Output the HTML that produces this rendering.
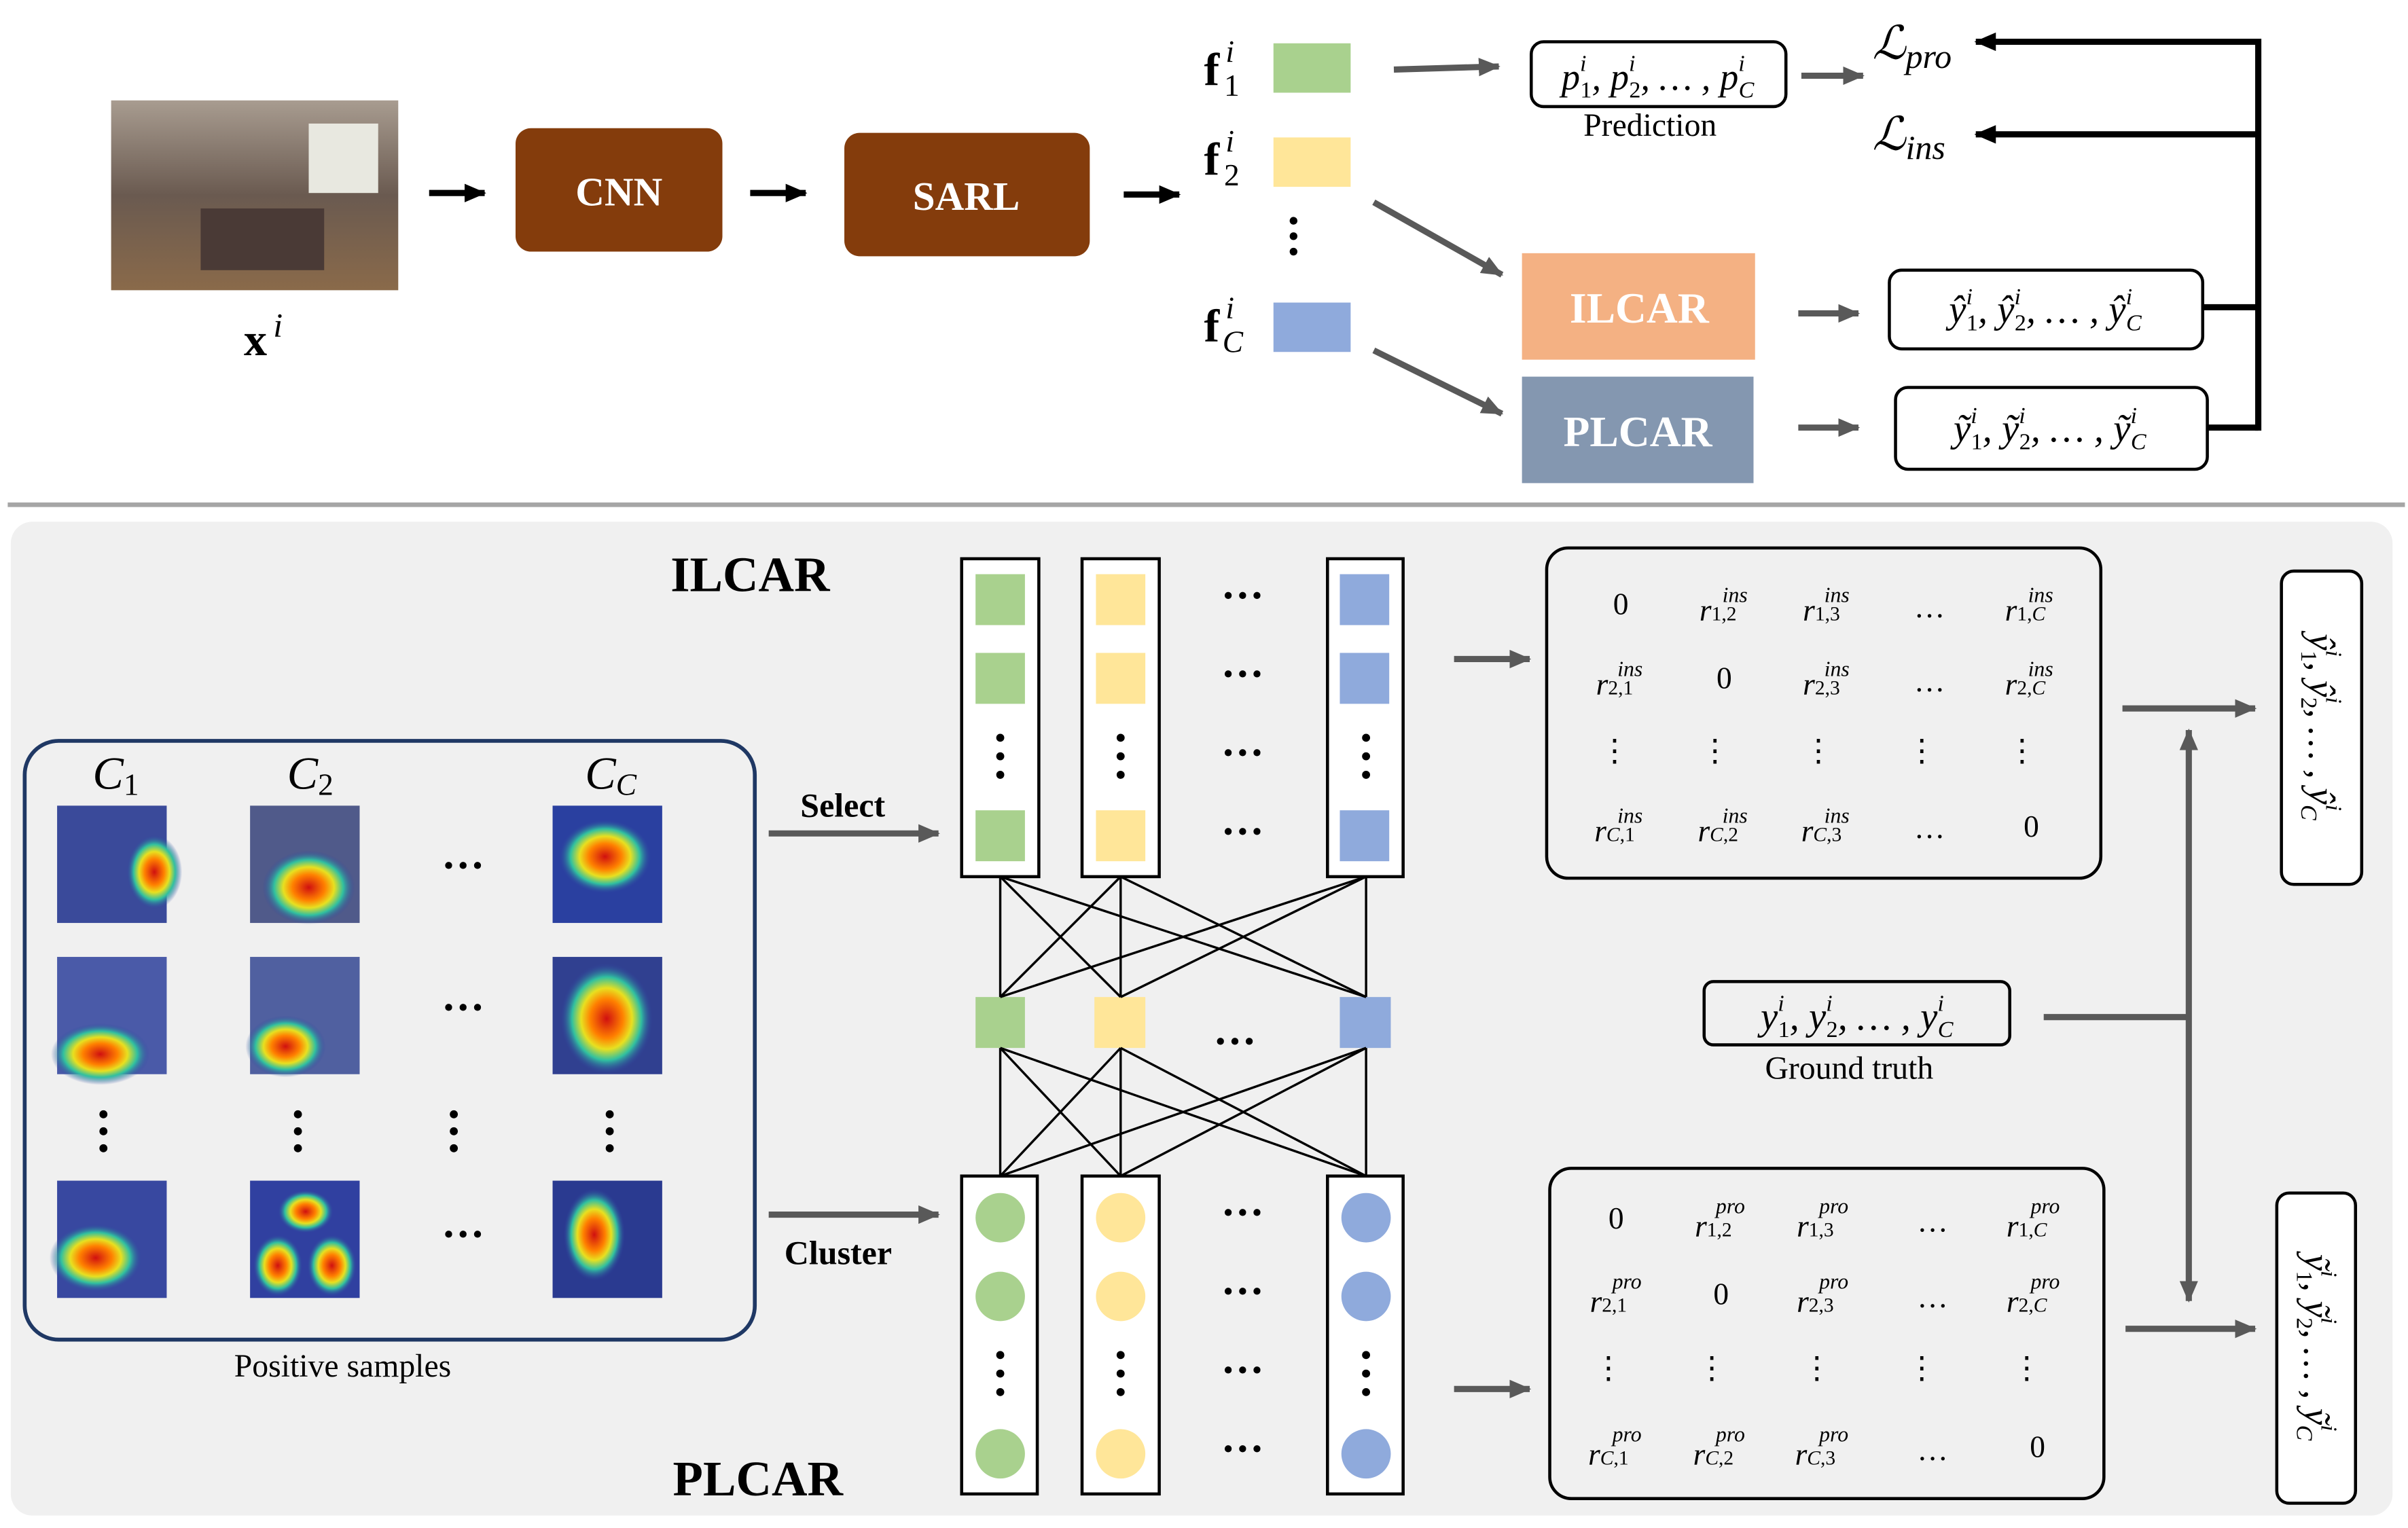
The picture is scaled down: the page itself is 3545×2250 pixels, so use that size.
<!DOCTYPE html>
<html><head><meta charset="utf-8">
<style>
html,body{margin:0;padding:0;background:#fff;}
svg{display:block;}
text{font-family:"Liberation Serif",serif;}
.it{font-style:italic;}
</style></head>
<body>
<svg width="3545" height="2250" viewBox="0 0 1560 990" xmlns="http://www.w3.org/2000/svg">
<defs>
<marker id="ab" markerWidth="14" markerHeight="12" refX="13" refY="6" orient="auto" markerUnits="userSpaceOnUse"><path d="M0,0 L14,6 L0,12 z" fill="#000"/></marker>
<marker id="ag" markerWidth="14" markerHeight="12" refX="13" refY="6" orient="auto" markerUnits="userSpaceOnUse"><path d="M0,0 L14,6 L0,12 z" fill="#595959"/></marker>
<marker id="agr" markerWidth="14" markerHeight="12" refX="1" refY="6" orient="auto" markerUnits="userSpaceOnUse"><path d="M14,0 L0,6 L14,12 z" fill="#595959"/></marker>
<radialGradient id="heat" cx="0.5" cy="0.5" r="0.5">
<stop offset="0" stop-color="#d01010"/><stop offset="0.35" stop-color="#ff8000"/><stop offset="0.55" stop-color="#e8e020"/><stop offset="0.75" stop-color="#30c0a0"/><stop offset="1" stop-color="#3040a0" stop-opacity="0"/></radialGradient>
<linearGradient id="room" x1="0" y1="0" x2="0" y2="1"><stop offset="0" stop-color="#a89c90"/><stop offset="0.5" stop-color="#6a5a50"/><stop offset="1" stop-color="#8a6a4a"/></linearGradient>
</defs>

<!-- TOP -->
<rect x="72" y="65" width="186" height="123" fill="url(#room)"/>
<rect x="200" y="80" width="45" height="45" fill="#e8e8e0"/>
<rect x="130" y="135" width="80" height="40" fill="#4a3a36"/>
<text x="158" y="230" font-size="30" font-weight="bold">x</text><text x="177" y="218" font-size="22" class="it">i</text>

<g stroke="#000" stroke-width="4" fill="none" marker-end="url(#ab)">
<line x1="278" y1="125" x2="314" y2="125"/>
<line x1="486" y1="125" x2="522" y2="125"/>
<line x1="728" y1="126" x2="764" y2="126"/>
</g>
<rect x="334" y="83" width="134" height="80" rx="10" fill="#843c0c"/>
<text x="401" y="133" font-size="26" font-weight="bold" fill="#fff" text-anchor="middle">CNN</text>
<rect x="547" y="86" width="159" height="80" rx="10" fill="#843c0c"/>
<text x="626" y="136" font-size="26" font-weight="bold" fill="#fff" text-anchor="middle">SARL</text>

<text x="780" y="55" font-size="30" font-weight="bold">f</text><text x="794" y="40" font-size="20" class="it">i</text><text x="793" y="62" font-size="20">1</text>
<text x="780" y="113" font-size="30" font-weight="bold">f</text><text x="794" y="98" font-size="20" class="it">i</text><text x="793" y="120" font-size="20">2</text>
<text x="780" y="221" font-size="30" font-weight="bold">f</text><text x="794" y="206" font-size="20" class="it">i</text><text x="792" y="228" font-size="20" class="it">C</text>
<rect x="825" y="28" width="50" height="32" fill="#a9d18e"/>
<rect x="825" y="89" width="50" height="32" fill="#ffe699"/>
<rect x="825" y="196" width="50" height="32" fill="#8faadc"/>
<circle cx="838" cy="143" r="2.5"/><circle cx="838" cy="153" r="2.5"/><circle cx="838" cy="163" r="2.5"/>

<g stroke="#595959" stroke-width="4" fill="none" marker-end="url(#ag)">
<line x1="903" y1="45" x2="971" y2="43"/>
<line x1="1167" y1="49" x2="1207" y2="49"/>
<line x1="890" y1="131" x2="973" y2="178"/>
<line x1="890" y1="227" x2="973" y2="268"/>
<line x1="1165" y1="203" x2="1204" y2="203"/>
<line x1="1165" y1="277" x2="1204" y2="277"/>
</g>
<rect x="992" y="27" width="165" height="42" rx="8" fill="#fff" stroke="#000" stroke-width="2"/>
<text x="1074" y="58" font-size="24" class="it" text-anchor="middle">p<tspan font-size="15" dy="-12">i</tspan><tspan font-size="15" font-style="normal" dx="-4" dy="17">1</tspan><tspan dy="-5">, p</tspan><tspan font-size="15" dy="-12">i</tspan><tspan font-size="15" font-style="normal" dx="-4" dy="17">2</tspan><tspan dy="-5">, … , p</tspan><tspan font-size="15" dy="-12">i</tspan><tspan font-size="15" dx="-4" dy="17">C</tspan></text>
<text x="1069" y="88" font-size="21" text-anchor="middle">Prediction</text>
<text x="1213" y="38" font-size="30" class="it">ℒ<tspan font-size="22" dy="6">pro</tspan></text>
<text x="1213" y="97" font-size="30" class="it">ℒ<tspan font-size="22" dy="6">ins</tspan></text>

<rect x="986" y="164" width="151" height="69" fill="#f4b183"/>
<text x="1062" y="209" font-size="28" font-weight="bold" fill="#fff" text-anchor="middle">ILCAR</text>
<rect x="986" y="244" width="150" height="69" fill="#8497b0"/>
<text x="1061" y="289" font-size="28" font-weight="bold" fill="#fff" text-anchor="middle">PLCAR</text>

<rect x="1224" y="175" width="203" height="51" rx="8" fill="#fff" stroke="#000" stroke-width="2"/>
<text x="1325" y="209" font-size="25" class="it" text-anchor="middle">ŷ<tspan font-size="15" dy="-12">i</tspan><tspan font-size="15" font-style="normal" dx="-4" dy="17">1</tspan><tspan dy="-5">, ŷ</tspan><tspan font-size="15" dy="-12">i</tspan><tspan font-size="15" font-style="normal" dx="-4" dy="17">2</tspan><tspan dy="-5">, … , ŷ</tspan><tspan font-size="15" dy="-12">i</tspan><tspan font-size="15" dx="-4" dy="17">C</tspan></text>
<rect x="1228" y="251" width="202" height="53" rx="8" fill="#fff" stroke="#000" stroke-width="2"/>
<text x="1328" y="286" font-size="25" class="it" text-anchor="middle">ỹ<tspan font-size="15" dy="-12">i</tspan><tspan font-size="15" font-style="normal" dx="-4" dy="17">1</tspan><tspan dy="-5">, ỹ</tspan><tspan font-size="15" dy="-12">i</tspan><tspan font-size="15" font-style="normal" dx="-4" dy="17">2</tspan><tspan dy="-5">, … , ỹ</tspan><tspan font-size="15" dy="-12">i</tspan><tspan font-size="15" dx="-4" dy="17">C</tspan></text>
<g stroke="#000" stroke-width="4" fill="none">
<line x1="1427" y1="199" x2="1463" y2="199"/>
<line x1="1430" y1="277" x2="1463" y2="277"/>
<line x1="1463" y1="25" x2="1463" y2="279"/>
<line x1="1463" y1="27" x2="1280" y2="27" marker-end="url(#ab)"/>
<line x1="1463" y1="87" x2="1280" y2="87" marker-end="url(#ab)"/>
</g>

<line x1="5" y1="327" x2="1558" y2="327" stroke="#a6a6a6" stroke-width="3"/>

<!-- BOTTOM -->
<rect x="7" y="338" width="1543" height="644" rx="14" fill="#f0f0f0"/>
<text x="486" y="383" font-size="32" font-weight="bold" text-anchor="middle">ILCAR</text>
<text x="491" y="969" font-size="32" font-weight="bold" text-anchor="middle">PLCAR</text>

<rect x="16" y="480" width="473" height="388" rx="22" fill="none" stroke="#1f3864" stroke-width="2.5"/>
<text x="60" y="511" font-size="30" class="it">C<tspan font-size="20" font-style="normal" dy="4">1</tspan></text>
<text x="186" y="511" font-size="30" class="it">C<tspan font-size="20" font-style="normal" dy="4">2</tspan></text>
<text x="379" y="511" font-size="30" class="it">C<tspan font-size="20" dy="4">C</tspan></text>
<g>
<rect x="37" y="522" width="71" height="76" fill="#3a4a9a"/><ellipse cx="100" cy="565" rx="18" ry="24" fill="url(#heat)"/>
<rect x="162" y="522" width="71" height="76" fill="#505a8a"/><ellipse cx="200" cy="575" rx="30" ry="24" fill="url(#heat)"/>
<rect x="358" y="522" width="71" height="76" fill="#2a40a0"/><ellipse cx="392" cy="555" rx="30" ry="24" fill="url(#heat)"/>
<rect x="37" y="620" width="71" height="76" fill="#4a5aa8"/><ellipse cx="65" cy="683" rx="32" ry="20" fill="url(#heat)"/>
<rect x="162" y="620" width="71" height="76" fill="#5060a0"/><ellipse cx="185" cy="678" rx="26" ry="20" fill="url(#heat)"/>
<rect x="358" y="620" width="71" height="76" fill="#304090"/><ellipse cx="393" cy="660" rx="30" ry="36" fill="url(#heat)"/>
<rect x="37" y="765" width="71" height="76" fill="#3848a0"/><ellipse cx="62" cy="815" rx="30" ry="22" fill="url(#heat)"/>
<rect x="162" y="765" width="71" height="76" fill="#3040a0"/><ellipse cx="180" cy="820" rx="16" ry="20" fill="url(#heat)"/><ellipse cx="215" cy="820" rx="16" ry="20" fill="url(#heat)"/><ellipse cx="198" cy="785" rx="18" ry="14" fill="url(#heat)"/>
<rect x="358" y="765" width="71" height="76" fill="#2a3a90"/><ellipse cx="385" cy="800" rx="20" ry="30" fill="url(#heat)"/>
</g>
<g font-size="28" font-weight="bold" text-anchor="middle">
<text x="300" y="570">···</text><text x="300" y="662">···</text><text x="300" y="809">···</text>
</g>
<g fill="#000">
<circle cx="67" cy="722" r="2.6"/><circle cx="67" cy="733" r="2.6"/><circle cx="67" cy="744" r="2.6"/>
<circle cx="193" cy="722" r="2.6"/><circle cx="193" cy="733" r="2.6"/><circle cx="193" cy="744" r="2.6"/>
<circle cx="294" cy="722" r="2.6"/><circle cx="294" cy="733" r="2.6"/><circle cx="294" cy="744" r="2.6"/>
<circle cx="395" cy="722" r="2.6"/><circle cx="395" cy="733" r="2.6"/><circle cx="395" cy="744" r="2.6"/>
</g>
<text x="222" y="892" font-size="21" text-anchor="middle">Positive samples</text>

<text x="546" y="529" font-size="22" font-weight="bold" text-anchor="middle">Select</text>
<text x="543" y="819" font-size="22" font-weight="bold" text-anchor="middle">Cluster</text>
<g stroke="#595959" stroke-width="4" fill="none" marker-end="url(#ag)">
<line x1="498" y1="540" x2="608" y2="540"/>
<line x1="498" y1="787" x2="608" y2="787"/>
<line x1="942" y1="427" x2="991" y2="427"/>
<line x1="942" y1="900" x2="991" y2="900"/>
<line x1="1375" y1="459" x2="1461" y2="459"/>
<line x1="1377" y1="861" x2="1461" y2="861"/>
<line x1="1324" y1="659" x2="1418" y2="659" marker-end="none"/>
<line x1="1418" y1="473" x2="1418" y2="843" marker-start="url(#agr)"/>
</g>

<g stroke="#000" stroke-width="2" fill="#fff">
<rect x="623" y="362" width="50" height="206"/><rect x="701" y="362" width="50" height="206"/><rect x="860" y="362" width="49" height="206"/>
<rect x="623" y="762" width="49" height="206"/><rect x="701" y="762" width="50" height="206"/><rect x="860" y="762" width="49" height="206"/>
</g>
<g fill="#a9d18e"><rect x="632" y="372" width="32" height="33"/><rect x="632" y="423" width="32" height="33"/><rect x="632" y="525" width="32" height="33"/></g>
<g fill="#ffe699"><rect x="710" y="372" width="32" height="33"/><rect x="710" y="423" width="32" height="33"/><rect x="710" y="525" width="32" height="33"/></g>
<g fill="#8faadc"><rect x="868" y="372" width="32" height="33"/><rect x="868" y="423" width="32" height="33"/><rect x="868" y="525" width="32" height="33"/></g>
<g fill="#000">
<circle cx="648" cy="478" r="2.6"/><circle cx="648" cy="490" r="2.6"/><circle cx="648" cy="502" r="2.6"/>
<circle cx="726" cy="478" r="2.6"/><circle cx="726" cy="490" r="2.6"/><circle cx="726" cy="502" r="2.6"/>
<circle cx="885" cy="478" r="2.6"/><circle cx="885" cy="490" r="2.6"/><circle cx="885" cy="502" r="2.6"/>
<circle cx="648" cy="878" r="2.6"/><circle cx="648" cy="890" r="2.6"/><circle cx="648" cy="902" r="2.6"/>
<circle cx="726" cy="878" r="2.6"/><circle cx="726" cy="890" r="2.6"/><circle cx="726" cy="902" r="2.6"/>
<circle cx="885" cy="878" r="2.6"/><circle cx="885" cy="890" r="2.6"/><circle cx="885" cy="902" r="2.6"/>
</g>
<g font-size="28" font-weight="bold" text-anchor="middle">
<text x="805" y="395">···</text><text x="805" y="446">···</text><text x="805" y="497">···</text><text x="805" y="548">···</text>
<text x="800" y="684">···</text>
<text x="805" y="795">···</text><text x="805" y="846">···</text><text x="805" y="897">···</text><text x="805" y="948">···</text>
</g>
<g fill="#a9d18e"><circle cx="648" cy="789" r="16"/><circle cx="648" cy="840" r="16"/><circle cx="648" cy="942" r="16"/></g>
<g fill="#ffe699"><circle cx="726" cy="789" r="16"/><circle cx="726" cy="840" r="16"/><circle cx="726" cy="942" r="16"/></g>
<g fill="#8faadc"><circle cx="885" cy="789" r="16"/><circle cx="885" cy="840" r="16"/><circle cx="885" cy="942" r="16"/></g>

<rect x="632" y="646" width="32" height="33" fill="#a9d18e"/>
<rect x="709" y="646" width="33" height="33" fill="#ffe699"/>
<rect x="868" y="646" width="33" height="33" fill="#8faadc"/>
<g stroke="#000" stroke-width="1.5">
<line x1="648" y1="568" x2="648" y2="646"/><line x1="648" y1="568" x2="726" y2="646"/><line x1="648" y1="568" x2="885" y2="646"/>
<line x1="726" y1="568" x2="648" y2="646"/><line x1="726" y1="568" x2="726" y2="646"/><line x1="726" y1="568" x2="885" y2="646"/>
<line x1="885" y1="568" x2="648" y2="646"/><line x1="885" y1="568" x2="726" y2="646"/><line x1="885" y1="568" x2="885" y2="646"/>
<line x1="648" y1="679" x2="648" y2="762"/><line x1="648" y1="679" x2="726" y2="762"/><line x1="648" y1="679" x2="885" y2="762"/>
<line x1="726" y1="679" x2="648" y2="762"/><line x1="726" y1="679" x2="726" y2="762"/><line x1="726" y1="679" x2="885" y2="762"/>
<line x1="885" y1="679" x2="648" y2="762"/><line x1="885" y1="679" x2="726" y2="762"/><line x1="885" y1="679" x2="885" y2="762"/>
</g>

<rect x="1002" y="355" width="359" height="214" rx="14" fill="none" stroke="#000" stroke-width="2"/>
<g font-size="20" text-anchor="middle">
<text x="1050" y="398">0</text>
<text x="1113" y="402" class="it">r<tspan font-size="13" font-style="normal">1,2</tspan></text><text x="1124" y="390" font-size="14" class="it">ins</text>
<text x="1180" y="402" class="it">r<tspan font-size="13" font-style="normal">1,3</tspan></text><text x="1190" y="390" font-size="14" class="it">ins</text>
<text x="1250" y="400">…</text>
<text x="1312" y="402" class="it">r<tspan font-size="13" font-style="normal">1,</tspan><tspan font-size="13">C</tspan></text><text x="1322" y="390" font-size="14" class="it">ins</text>
<text x="1046" y="450" class="it">r<tspan font-size="13" font-style="normal">2,1</tspan></text><text x="1056" y="438" font-size="14" class="it">ins</text>
<text x="1117" y="446">0</text>
<text x="1180" y="450" class="it">r<tspan font-size="13" font-style="normal">2,3</tspan></text><text x="1190" y="438" font-size="14" class="it">ins</text>
<text x="1250" y="448">…</text>
<text x="1312" y="450" class="it">r<tspan font-size="13" font-style="normal">2,</tspan><tspan font-size="13">C</tspan></text><text x="1322" y="438" font-size="14" class="it">ins</text>
<text x="1046" y="493">⋮</text><text x="1111" y="493">⋮</text><text x="1178" y="493">⋮</text><text x="1245" y="493">⋮</text><text x="1310" y="493">⋮</text>
<text x="1046" y="545" class="it">r<tspan font-size="13">C</tspan><tspan font-size="13" font-style="normal">,1</tspan></text><text x="1056" y="533" font-size="14" class="it">ins</text>
<text x="1113" y="545" class="it">r<tspan font-size="13">C</tspan><tspan font-size="13" font-style="normal">,2</tspan></text><text x="1124" y="533" font-size="14" class="it">ins</text>
<text x="1180" y="545" class="it">r<tspan font-size="13">C</tspan><tspan font-size="13" font-style="normal">,3</tspan></text><text x="1190" y="533" font-size="14" class="it">ins</text>
<text x="1250" y="543">…</text>
<text x="1316" y="542">0</text>
</g>

<rect x="1004" y="757" width="359" height="214" rx="14" fill="none" stroke="#000" stroke-width="2"/>
<g font-size="20" text-anchor="middle">
<text x="1047" y="796">0</text>
<text x="1110" y="801" class="it">r<tspan font-size="13" font-style="normal">1,2</tspan></text><text x="1121" y="786" font-size="14" class="it">pro</text>
<text x="1176" y="801" class="it">r<tspan font-size="13" font-style="normal">1,3</tspan></text><text x="1188" y="786" font-size="14" class="it">pro</text>
<text x="1252" y="798">…</text>
<text x="1313" y="801" class="it">r<tspan font-size="13" font-style="normal">1,</tspan><tspan font-size="13">C</tspan></text><text x="1325" y="786" font-size="14" class="it">pro</text>
<text x="1042" y="850" class="it">r<tspan font-size="13" font-style="normal">2,1</tspan></text><text x="1054" y="835" font-size="14" class="it">pro</text>
<text x="1115" y="845">0</text>
<text x="1176" y="850" class="it">r<tspan font-size="13" font-style="normal">2,3</tspan></text><text x="1188" y="835" font-size="14" class="it">pro</text>
<text x="1252" y="847">…</text>
<text x="1313" y="850" class="it">r<tspan font-size="13" font-style="normal">2,</tspan><tspan font-size="13">C</tspan></text><text x="1325" y="835" font-size="14" class="it">pro</text>
<text x="1042" y="893">⋮</text><text x="1109" y="893">⋮</text><text x="1177" y="893">⋮</text><text x="1245" y="893">⋮</text><text x="1313" y="893">⋮</text>
<text x="1042" y="949" class="it">r<tspan font-size="13">C</tspan><tspan font-size="13" font-style="normal">,1</tspan></text><text x="1054" y="934" font-size="14" class="it">pro</text>
<text x="1110" y="949" class="it">r<tspan font-size="13">C</tspan><tspan font-size="13" font-style="normal">,2</tspan></text><text x="1121" y="934" font-size="14" class="it">pro</text>
<text x="1176" y="949" class="it">r<tspan font-size="13">C</tspan><tspan font-size="13" font-style="normal">,3</tspan></text><text x="1188" y="934" font-size="14" class="it">pro</text>
<text x="1252" y="946">…</text>
<text x="1320" y="944">0</text>
</g>

<rect x="1104" y="636" width="198" height="41" rx="6" fill="none" stroke="#000" stroke-width="2"/>
<text x="1203" y="667" font-size="25" class="it" text-anchor="middle">y<tspan font-size="15" dy="-12">i</tspan><tspan font-size="15" font-style="normal" dx="-4" dy="17">1</tspan><tspan dy="-5">, y</tspan><tspan font-size="15" dy="-12">i</tspan><tspan font-size="15" font-style="normal" dx="-4" dy="17">2</tspan><tspan dy="-5">, … , y</tspan><tspan font-size="15" dy="-12">i</tspan><tspan font-size="15" dx="-4" dy="17">C</tspan></text>
<text x="1198" y="699" font-size="21" text-anchor="middle">Ground truth</text>

<rect x="1478" y="370" width="52" height="203" rx="8" fill="#fff" stroke="#000" stroke-width="2"/>
<text transform="translate(1496,471) rotate(90)" font-size="24" class="it" text-anchor="middle">ŷ<tspan font-size="15" dy="-11">i</tspan><tspan font-size="15" font-style="normal" dx="-4" dy="16">1</tspan><tspan dy="-5">, ŷ</tspan><tspan font-size="15" dy="-11">i</tspan><tspan font-size="15" font-style="normal" dx="-4" dy="16">2</tspan><tspan dy="-5">, … , ŷ</tspan><tspan font-size="15" dy="-11">i</tspan><tspan font-size="15" dx="-4" dy="16">C</tspan></text>
<rect x="1475" y="773" width="51" height="201" rx="8" fill="#fff" stroke="#000" stroke-width="2"/>
<text transform="translate(1493,873) rotate(90)" font-size="24" class="it" text-anchor="middle">ỹ<tspan font-size="15" dy="-11">i</tspan><tspan font-size="15" font-style="normal" dx="-4" dy="16">1</tspan><tspan dy="-5">, ỹ</tspan><tspan font-size="15" dy="-11">i</tspan><tspan font-size="15" font-style="normal" dx="-4" dy="16">2</tspan><tspan dy="-5">, … , ỹ</tspan><tspan font-size="15" dy="-11">i</tspan><tspan font-size="15" dx="-4" dy="16">C</tspan></text>
</svg>
</body></html>
